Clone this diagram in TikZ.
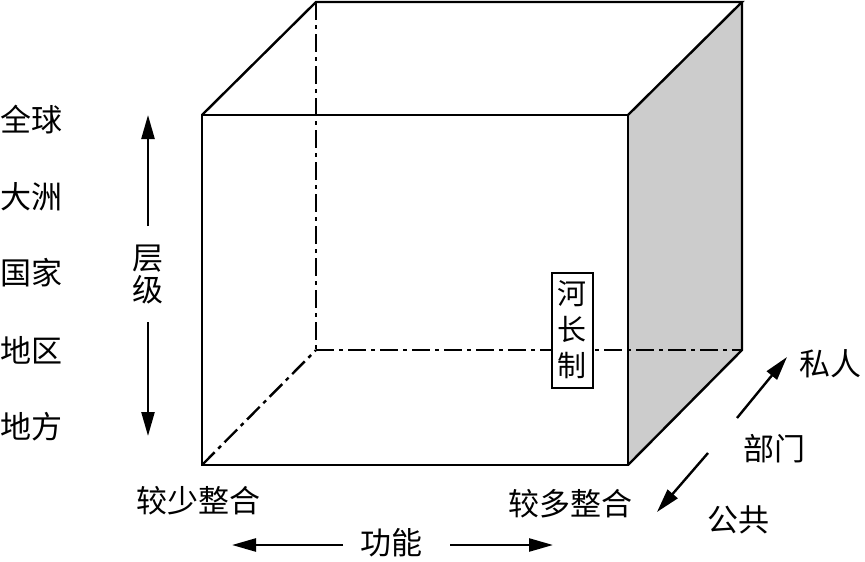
\documentclass[tikz,border=0pt]{standalone}
\usepackage{fontspec}
\newfontfamily\cjk{Noto Sans CJK SC}
\usetikzlibrary{arrows.meta}
\begin{document}
\begin{tikzpicture}[x=1pt,y=-1pt,
  lbl/.style={font=\cjk\fontsize{31}{35}\selectfont, inner sep=0pt},
  edge/.style={line width=2.4pt, line join=miter},
  hidden/.style={line width=2.4pt, dash pattern=on 18pt off 5pt on 4pt off 5pt},
  arr/.style={line width=2.4pt, -{Triangle[length=24pt,width=13pt]}}]
\useasboundingbox (0,0) rectangle (865,562);
% corners
\coordinate (F1) at (202,115); \coordinate (F2) at (628,115);
\coordinate (F3) at (628,465); \coordinate (F4) at (202,465);
\coordinate (B1) at (316,2);   \coordinate (B2) at (742,2);
\coordinate (B3) at (742,350); \coordinate (B4) at (316,350);
% shaded side
\fill[gray!40] (F2) -- (B2) -- (B3) -- (F3) -- cycle;
% hidden edges
\draw[hidden] (B1) -- (B4);
\draw[hidden] (B4) -- (B3);
\draw[hidden] (F4) -- (B4);
% visible edges
\draw[edge] (F1) rectangle (F3);
\draw[edge] (F1) -- (B1) -- (B2) -- (F2);
\draw[edge] (B2) -- (B3) -- (F3);
% label box
\node[draw, line width=2pt, fill=white, font=\cjk\fontsize{29}{36}\selectfont,
      align=center, inner sep=2pt, minimum width=41pt, minimum height=115pt] (hzz) at (572,330) {河\\长\\制};
% left labels
\node[lbl] (l1) at (32,120) {全球};
\node[lbl] (l2) at (32,197) {大洲};
\node[lbl] (l3) at (32,273) {国家};
\node[lbl] (l4) at (32,350) {地区};
\node[lbl] (l5) at (32,427) {地方};
% level arrow
\node[lbl, align=center, font=\cjk\fontsize{31}{32}\selectfont] (lev) at (148,274) {层\\级};
\coordinate (levT) at (148,115);
\coordinate (levB) at (148,436);
\draw[arr] (148,226) -- (levT);
\draw[arr] (148,322) -- (levB);
% bottom
\node[lbl] (few) at (198,501) {较少整合};
\node[lbl] (more) at (570,504) {较多整合};
\node[lbl] (fn) at (391,543) {功能};
\coordinate (fnL) at (232,545);
\coordinate (fnR) at (553,545);
\draw[arr] (343,545) -- (fnL);
\draw[arr] (450,545) -- (fnR);
% right
\node[lbl] (pri) at (830,364) {私人};
\node[lbl] (sec) at (774,449) {部门};
\node[lbl] (pub) at (738,520) {公共};
\coordinate (priT) at (787,357);
\coordinate (pubT) at (657,512);
\draw[arr] (737,418) -- (priT);
\draw[arr] (708,453) -- (pubT);
\end{tikzpicture}
\end{document}
